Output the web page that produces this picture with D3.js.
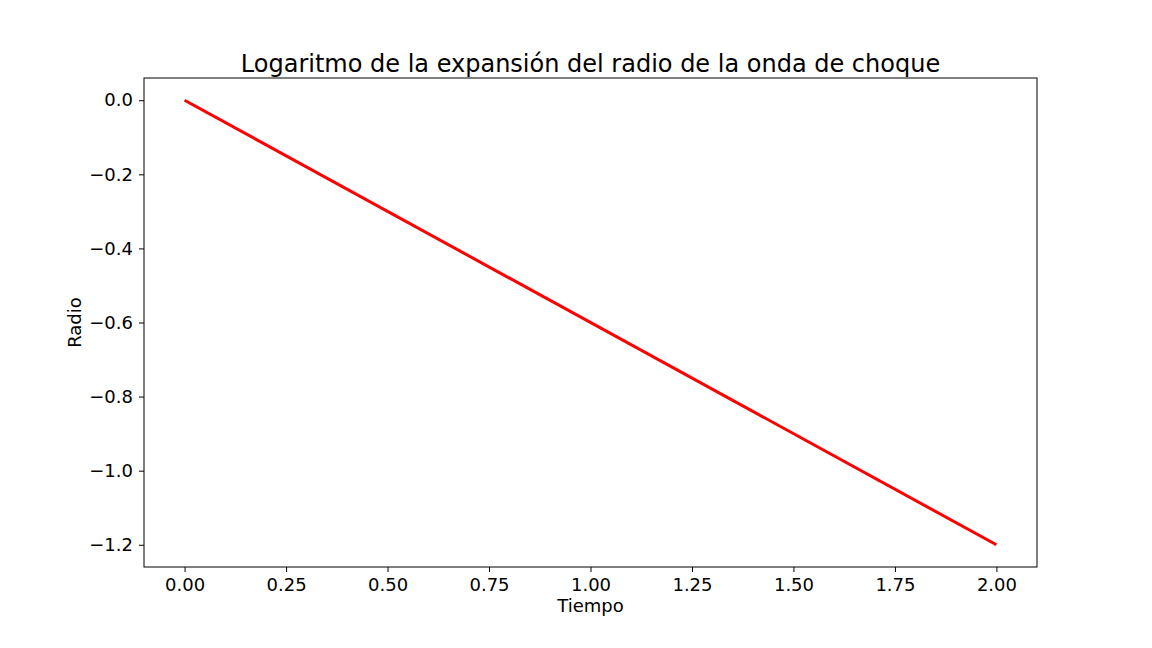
<!DOCTYPE html>
<html>
<head>
<meta charset="utf-8">
<script src="https://d3js.org/d3.v7.min.js"></script>
<style>
  body { margin: 0; background: #fff; }
  text { font-family: "DejaVu Sans", sans-serif; }
</style>
</head>
<body>
<script>
// data
var tiempo = [0, 2];
var radio = [0, -1.2];
var xTicks = [0, 0.25, 0.5, 0.75, 1, 1.25, 1.5, 1.75, 2];
var yTicks = [0, -0.2, -0.4, -0.6, -0.8, -1.0, -1.2];

var W = 1152, H = 648;
var mLeft = 144, mRight = 1037, mTop = 78, mBottom = 567;

var svg = d3.select('body').append('svg').attr('width', W).attr('height', H);

var x = d3.scaleLinear().domain([-0.1, 2.1]).range([mLeft, mRight]);
var y = d3.scaleLinear().domain([0.06, -1.26]).range([mTop, mBottom]);

var fmtY = function (d) { return d3.format('.1f')(d).replace('-', '\u2212'); };

var xa = svg.append('g').attr('transform', 'translate(0,' + mBottom + ')')
  .call(d3.axisBottom(x).tickValues(xTicks).tickFormat(d3.format('.2f')).tickSizeOuter(0).tickSize(5).tickPadding(6));
var ya = svg.append('g').attr('transform', 'translate(' + mLeft + ',0)')
  .call(d3.axisLeft(y).tickValues(yTicks).tickFormat(fmtY).tickSizeOuter(0).tickSize(5).tickPadding(6));
[xa, ya].forEach(function (a) {
  a.selectAll('text').attr('font-size', 18).attr('fill', '#000').style('font-family', 'DejaVu Sans');
  a.select('.domain').remove();
  a.selectAll('line').attr('stroke', '#000');
});

svg.append('rect').attr('x', mLeft).attr('y', mTop)
  .attr('width', mRight - mLeft).attr('height', mBottom - mTop)
  .attr('fill', 'none').attr('stroke', '#000').attr('stroke-width', 1);

var pts = tiempo.map(function (t, i) { return [t, radio[i]]; });
svg.append('path').datum(pts)
  .attr('d', d3.line().x(function (d) { return x(d[0]); }).y(function (d) { return y(d[1]); }))
  .attr('fill', 'none').attr('stroke', 'red').attr('stroke-width', 3);

svg.append('text').attr('x', (mLeft + mRight) / 2).attr('y', 72).attr('text-anchor', 'middle')
  .attr('font-size', 24).text('Logaritmo de la expansión del radio de la onda de choque');
svg.append('text').attr('x', (mLeft + mRight) / 2).attr('y', 612).attr('text-anchor', 'middle')
  .attr('font-size', 18).text('Tiempo');
svg.append('text').attr('transform', 'translate(81,' + (mTop + mBottom) / 2 + ') rotate(-90)')
  .attr('text-anchor', 'middle').attr('font-size', 18).text('Radio');
</script>
</body>
</html>
